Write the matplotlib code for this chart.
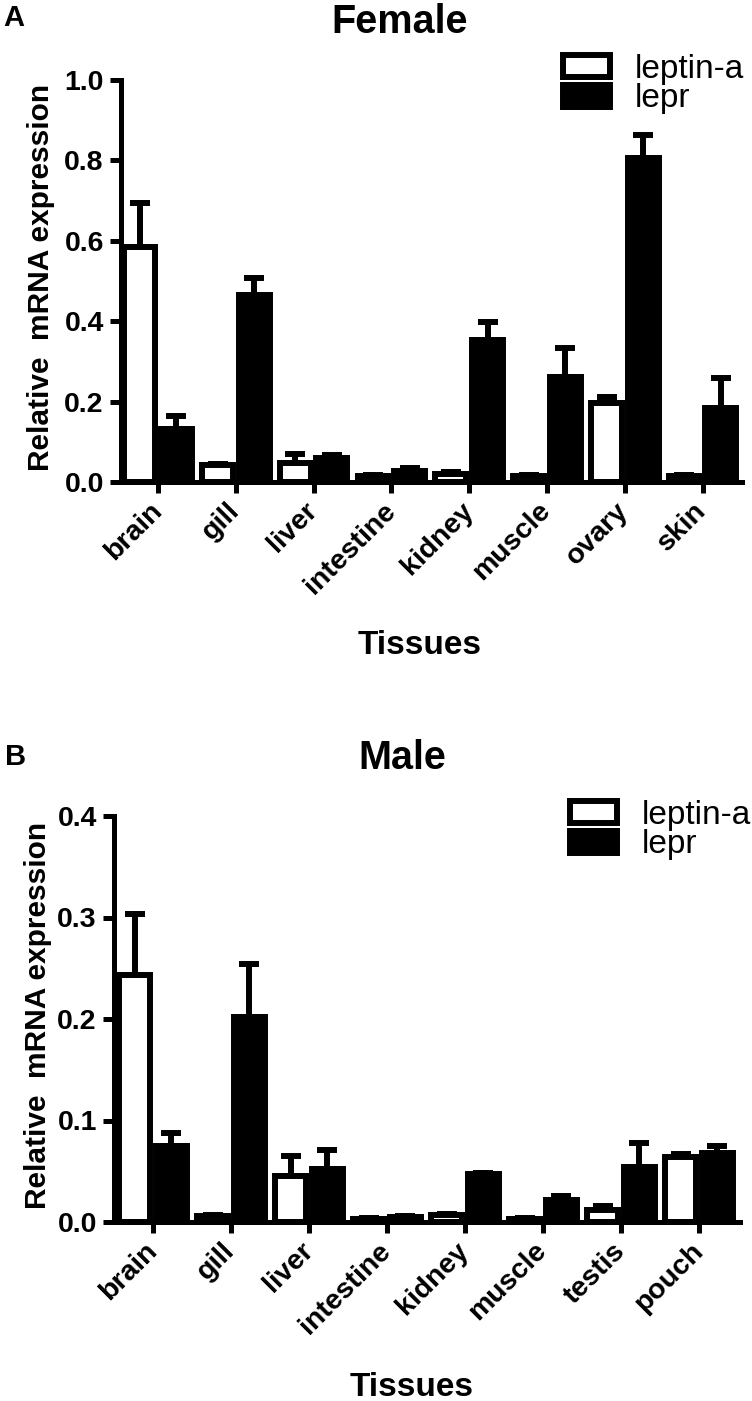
import matplotlib
matplotlib.use("Agg")
import matplotlib.pyplot as plt
from matplotlib.patches import Patch
import numpy as np

plt.rcParams['font.family'] = ['Liberation Sans', 'DejaVu Sans']

# %% data
female_tissues = ['brain', 'gill', 'liver', 'intestine', 'kidney', 'muscle', 'ovary', 'skin']
female_leptin = [0.585, 0.042, 0.047, 0.015, 0.020, 0.015, 0.197, 0.015]
female_leptin_err = [0.109, 0.002, 0.022, 0.002, 0.006, 0.002, 0.015, 0.002]
female_lepr = [0.132, 0.465, 0.060, 0.028, 0.354, 0.260, 0.806, 0.184]
female_lepr_err = [0.032, 0.043, 0.006, 0.006, 0.045, 0.074, 0.058, 0.075]

male_tissues = ['brain', 'gill', 'liver', 'intestine', 'kidney', 'muscle', 'testis', 'pouch']
male_leptin = [0.243, 0.006, 0.045, 0.003, 0.007, 0.003, 0.012, 0.064]
male_leptin_err = [0.060, 0.001, 0.020, 0.0005, 0.001, 0.0005, 0.004, 0.003]
male_lepr = [0.075, 0.202, 0.052, 0.005, 0.047, 0.022, 0.054, 0.068]
male_lepr_err = [0.013, 0.052, 0.019, 0.001, 0.001, 0.004, 0.024, 0.007]

series_names = ['leptin-a', 'lepr']

LW = 4.3       # bar outline / error bar width
SPINE = 3.6
W = 0.40       # bar width
OFF = 0.235    # bar offset from tick


def panel(ax, tissues, leptin, leptin_err, lepr, lepr_err, ymax, step, xlim):
    x = np.arange(len(tissues))
    zeros = np.zeros(len(x))
    ax.bar(x - OFF, leptin, W, color='white', edgecolor='black', linewidth=LW, zorder=3)
    ax.bar(x + OFF, lepr, W, color='black', edgecolor='black', linewidth=LW, zorder=3)
    ax.errorbar(x - OFF, leptin, yerr=[zeros, leptin_err], fmt='none', ecolor='black',
                elinewidth=LW, capsize=7, capthick=LW, zorder=2)
    ax.errorbar(x + OFF, lepr, yerr=[zeros, lepr_err], fmt='none', ecolor='black',
                elinewidth=LW, capsize=7, capthick=LW, zorder=2)

    ax.set_xlim(*xlim)
    ax.set_ylim(0, ymax)
    ticks = np.arange(0, ymax + step / 2, step)
    ax.set_yticks(ticks)
    ax.set_yticklabels([f'{v:.1f}' for v in ticks], fontsize=20.5, fontweight='bold')
    ax.set_xticks(x)
    ax.set_xticklabels(tissues, rotation=45, ha='right', va='center',
                       rotation_mode='anchor', fontsize=20.5, fontweight='bold')
    ax.tick_params(axis='both', direction='out', length=8, width=SPINE, pad=4)
    ax.tick_params(axis='x', pad=10)
    for s in ['top', 'right']:
        ax.spines[s].set_visible(False)
    for s in ['left', 'bottom']:
        ax.spines[s].set_linewidth(SPINE)
    ax.set_ylabel('Relative  mRNA expression', fontsize=21.5, fontweight='bold', va='center')
    ax.set_xlabel('Tissues', fontsize=24, fontweight='bold', va='center')


fig = plt.figure(figsize=(7.52, 14.01), dpi=100)

# Panel A
axA = fig.add_axes([120.5 / 752, 1 - 482 / 1401, 621.5 / 752, 402 / 1401])
panel(axA, female_tissues, female_leptin, female_leptin_err, female_lepr, female_lepr_err,
      1.0, 0.2, (-0.482, 7.506))
axA.yaxis.set_label_coords(-0.128, 0.51)
axA.xaxis.set_label_coords(0.482, -(645 - 482) / 402)

# Panel B
axB = fig.add_axes([113.5 / 752, 1 - 1222 / 1401, 626.5 / 752, 406 / 1401])
panel(axB, male_tissues, male_leptin, male_leptin_err, male_lepr, male_lepr_err,
      0.4, 0.1, (-0.506, 7.526))
axB.yaxis.set_label_coords(-0.12, 0.51)
axB.xaxis.set_label_coords(0.476, -(1388 - 1222) / 406)

handles = [Patch(facecolor='white', edgecolor='black', linewidth=LW),
           Patch(facecolor='black', edgecolor='black', linewidth=LW)]
for ax, (lx, ly) in [(axA, (563, 54)), (axB, (570, 800))]:
    ax.legend(handles, series_names, loc='upper left', bbox_to_anchor=(lx / 752, 1 - ly / 1401),
              bbox_transform=fig.transFigure, frameon=False, fontsize=24, borderpad=0,
              borderaxespad=0, handlelength=1.4, handleheight=0.63, handletextpad=0.75,
              labelspacing=-0.05)

fig.text(3 / 752, 1 - 18 / 1401, 'A', fontsize=21, fontweight='bold', ha='left', va='center')
fig.text(400 / 752, 1 - 22 / 1401, 'Female', fontsize=28.5, fontweight='bold', ha='center', va='center')
fig.text(5 / 752, 1 - 757 / 1401, 'B', fontsize=21, fontweight='bold', ha='left', va='center')
fig.text(402 / 752, 1 - 758 / 1401, 'Male', fontsize=28.5, fontweight='bold', ha='center', va='center')

fig.savefig('out.png', dpi=100)
